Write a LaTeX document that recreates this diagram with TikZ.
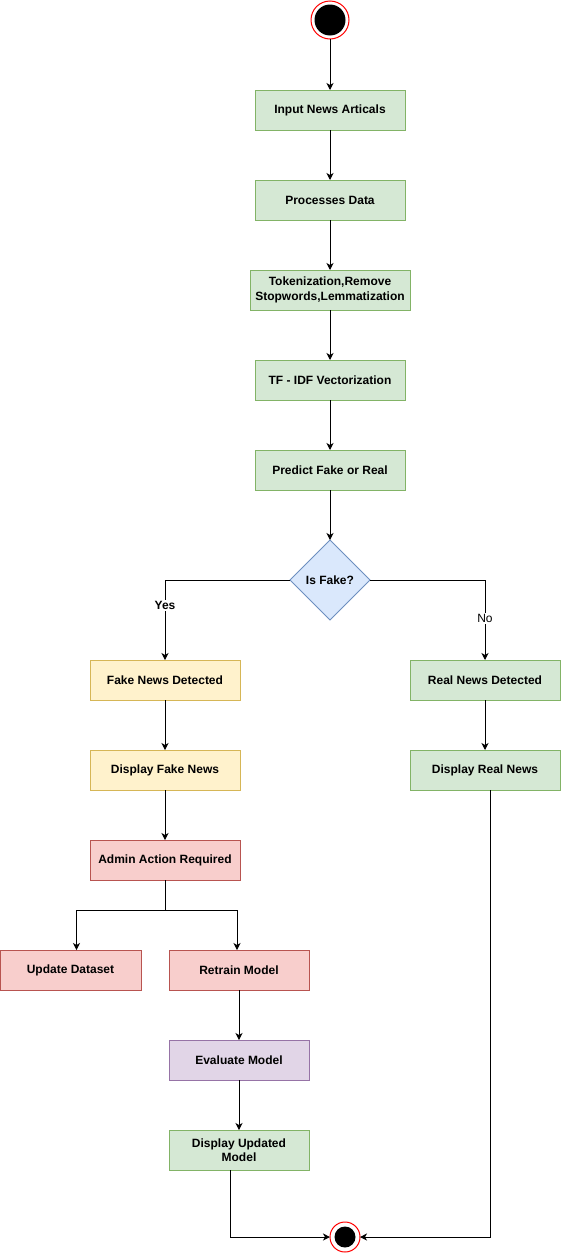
\documentclass[tikz,border=0pt]{standalone}
\usepackage{fontspec}
\setmainfont{Liberation Sans}
\usepackage{tikz}
\usetikzlibrary{arrows.meta,positioning,shapes.geometric}
\definecolor{greenfill}{HTML}{D5E8D4}
\definecolor{greenline}{HTML}{82B366}
\definecolor{yellowfill}{HTML}{FFF2CC}
\definecolor{yellowline}{HTML}{D6B656}
\definecolor{redfill}{HTML}{F8CECC}
\definecolor{redline}{HTML}{B85450}
\definecolor{purplefill}{HTML}{E1D5E7}
\definecolor{purpleline}{HTML}{9673A6}
\definecolor{bluefill}{HTML}{DAE8FC}
\definecolor{blueline}{HTML}{6C8EBF}
\tikzset{
  actbox/.style={
    rectangle, draw=#1line, fill=#1fill, line width=1pt,
    minimum width=150pt, minimum height=40pt,
    font=\bfseries\fontsize{12}{14.5}\selectfont, align=center,
    inner sep=2pt, outer sep=0pt
  },
  actbox/.default=green,
  decisionbox/.style={
    diamond, draw=blueline, fill=bluefill, line width=1pt,
    minimum width=80pt, minimum height=80pt, inner sep=0pt, outer sep=0pt,
    font=\bfseries\fontsize{12}{14.5}\selectfont
  },
  startnode/.style={
    circle, draw=red, fill=white, line width=1pt,
    minimum size=#1, inner sep=0pt, outer sep=0pt
  },
  flowarrow/.style={
    -{Stealth[length=7pt, width=7pt, inset=2pt]}, line width=1pt, color=black
  },
  branchlabel/.style={
    font=\bfseries\fontsize{12}{14}\selectfont, fill=white, inner sep=1pt
  },
}

\begin{document}
\begin{tikzpicture}

\useasboundingbox (0,0) rectangle (562pt,-1253pt);

% Start
\node[startnode=38pt, path picture={\fill[black] (path picture bounding box.center) circle (15.5pt);}] (start) at (330pt,-20pt) {};

% Main column
\node[actbox, below=51pt of start] (input) {Input News Articals};
\node[actbox, below=50pt of input] (process) {Processes Data};
\node[actbox, below=50pt of process, minimum width=160pt] (token) {Tokenization,Remove\\Stopwords,Lemmatization};
\node[actbox, below=50pt of token] (tfidf) {TF - IDF Vectorization};
\node[actbox, below=50pt of tfidf] (predict) {Predict Fake or Real};
\node[decisionbox, below=50pt of predict] (isfake) {Is Fake?};

\draw[flowarrow] (start) -- (input);
\draw[flowarrow] (input) -- (process);
\draw[flowarrow] (process) -- (token);
\draw[flowarrow] (token) -- (tfidf);
\draw[flowarrow] (tfidf) -- (predict);
\draw[flowarrow] (predict) -- (isfake);

% Fake branch
\node[actbox=yellow, below=40pt of isfake, xshift=-165pt] (fake) {Fake News Detected};
\node[actbox=yellow, below=50pt of fake] (dispfake) {Display Fake News};
\node[actbox=red, below=50pt of dispfake] (admin) {Admin Action Required};
\node[actbox=red, below=70pt of admin, xshift=-94.5pt, minimum width=141pt] (update) {Update Dataset};
\node[actbox=red, below=70pt of admin, xshift=74pt, minimum width=140pt] (retrain) {Retrain Model};
\node[actbox=purple, below=50pt of retrain, minimum width=140pt] (evaluate) {Evaluate Model};
\node[actbox, below=50pt of evaluate, minimum width=140pt] (dispupd) {Display Updated\\Model};
\coordinate[below=30pt of admin] (split);

\draw[flowarrow] (isfake) -| node[branchlabel, pos=0.66] {Yes} (fake);
\draw[flowarrow] (fake) -- (dispfake);
\draw[flowarrow] (dispfake) -- (admin);
\draw[line width=1pt] (admin) -- (split);
\draw[flowarrow] (split) -| ([xshift=6pt]update.north);
\draw[flowarrow] (split) -| ([xshift=-2pt]retrain.north);
\draw[flowarrow] (retrain) -- (evaluate);
\draw[flowarrow] (evaluate) -- (dispupd);

% Real branch
\node[actbox, below=40pt of isfake, xshift=155pt] (real) {Real News Detected};
\node[actbox, below=50pt of real] (dispreal) {Display Real News};

\draw[flowarrow] (isfake) -| node[branchlabel, pos=0.74, font=\fontsize{12}{14}\selectfont] {No} (real);
\draw[flowarrow] (real) -- (dispreal);

% End
\node[startnode=30pt, path picture={\fill[black] (path picture bounding box.center) circle (10.5pt);}] (finish) at (345pt,-1237pt) {};

\draw[flowarrow] ([xshift=-9pt]dispupd.south) |- (finish);
\draw[flowarrow] ([xshift=5pt]dispreal.south) |- (finish);

\end{tikzpicture}
\end{document}
